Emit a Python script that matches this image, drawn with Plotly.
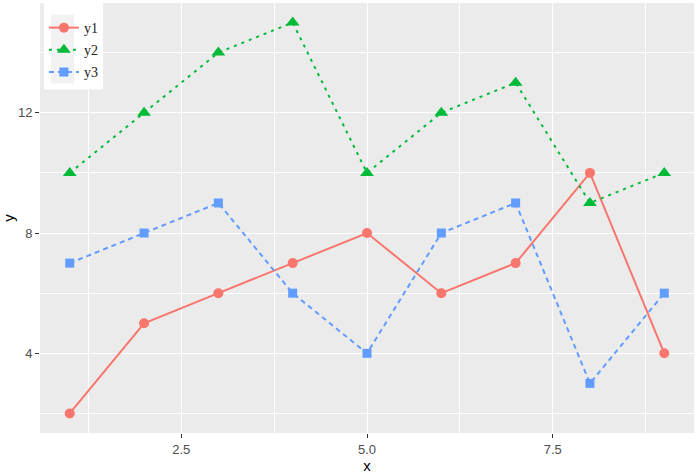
import plotly.graph_objects as go

x = [1, 2, 3, 4, 5, 6, 7, 8, 9]
y1 = [2, 5, 6, 7, 8, 6, 7, 10, 4]
y2 = [10, 12, 14, 15, 10, 12, 13, 9, 10]
y3 = [7, 8, 9, 6, 4, 8, 9, 3, 6]
names = ["y1", "y2", "y3"]
colors = ["#F8766D", "#00BA38", "#619CFF"]
symbols = ["circle", "triangle-up", "square"]
dashes = ["solid", "3px,5px", "5px,4px"]
sizes = [10, 12, 9]

fig = go.Figure()
for i, ys in enumerate([y1, y2, y3]):
    fig.add_trace(go.Scatter(
        x=x, y=ys, name=names[i], mode="lines+markers",
        legendgroup=names[i],
        line=dict(color=colors[i], width=2, dash=dashes[i]),
        marker=dict(color=colors[i], symbol=symbols[i], size=sizes[i]),
    ))

grid = "white"
fig.update_layout(
    width=696, height=474,
    margin=dict(l=40, r=2, t=3, b=41),
    paper_bgcolor="white",
    plot_bgcolor="#EBEBEB",
    font=dict(family="Liberation Sans, Arial, sans-serif", color="#4D4D4D", size=13),
    showlegend=True,
    legend=dict(
        x=0.006, y=0.979, xanchor="left", yanchor="top",
        bgcolor="rgba(0,0,0,0)", borderwidth=0,
        font=dict(family="Liberation Serif, Times New Roman, serif", size=14, color="#1A1A1A"),
        tracegroupgap=1, itemwidth=30,
    ),
    shapes=[
        dict(type="rect", xref="paper", yref="paper", layer="above",
             x0=(44 - 40) / 654, x1=(103 - 40) / 654,
             y0=1 - (90 - 3.5) / 430, y1=1.0,
             fillcolor="white", line=dict(width=0)),
        dict(type="rect", xref="paper", yref="paper", layer="above",
             x0=(51 - 40) / 654, x1=(74 - 40) / 654,
             y0=1 - (84 - 3.5) / 430, y1=1 - (15 - 3.5) / 430,
             fillcolor="#F2F2F2", line=dict(width=0)),
    ],
)
fig.update_xaxes(
    range=[0.6, 9.4], tickvals=[2.5, 5.0, 7.5], ticktext=["2.5", "5.0", "7.5"],
    showgrid=True, gridcolor=grid, gridwidth=1.2, zeroline=False,
    ticks="outside", ticklen=4, tickwidth=1, tickcolor="#333333",
    minor=dict(tickvals=[1.25, 3.75, 6.25, 8.75], showgrid=True, gridcolor=grid, gridwidth=0.9, ticks=""),
    title=dict(text="x", font=dict(size=15, color="black"), standoff=3),
    tickfont=dict(size=13, color="#4D4D4D"), showline=False,
)
fig.update_yaxes(
    range=[1.35, 15.65], tickvals=[4, 8, 12], ticktext=["4", "8", "12"],
    showgrid=True, gridcolor=grid, gridwidth=1.2, zeroline=False,
    ticks="outside", ticklen=4, tickwidth=1, tickcolor="#333333",
    minor=dict(tickvals=[2, 6, 10, 14], showgrid=True, gridcolor=grid, gridwidth=0.9, ticks=""),
    title=dict(text="y", font=dict(size=15, color="black"), standoff=5),
    tickfont=dict(size=13, color="#4D4D4D"), showline=False,
)

fig.write_html("out.html", config={"displayModeBar": False},
               post_script="document.body.style.margin='0';")
